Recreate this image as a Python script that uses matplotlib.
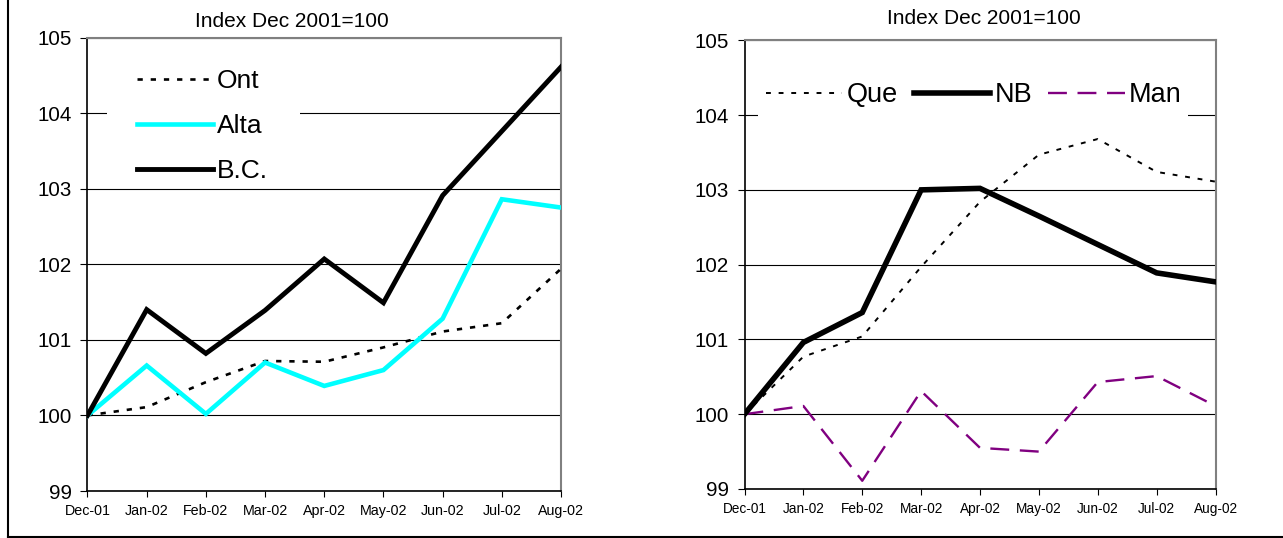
import matplotlib
matplotlib.use('Agg')
import matplotlib.pyplot as plt
from matplotlib.patches import Rectangle
from matplotlib.lines import Line2D

plt.rcParams['font.family'] = ['Liberation Sans', 'DejaVu Sans']

months = ['Dec-01', 'Jan-02', 'Feb-02', 'Mar-02', 'Apr-02', 'May-02', 'Jun-02', 'Jul-02', 'Aug-02']
yticks = [99, 100, 101, 102, 103, 104, 105]
title_text = 'Index Dec 2001=100'

# Left chart
ont = [100.00, 100.11, 100.44, 100.72, 100.71, 100.90, 101.11, 101.22, 101.94]
alta = [100.00, 100.66, 100.02, 100.70, 100.39, 100.60, 101.28, 102.86, 102.75]
bc = [100.00, 101.40, 100.82, 101.39, 102.07, 101.49, 102.91, 103.76, 104.61]

# Right chart
que = [100.00, 100.77, 101.04, 101.97, 102.84, 103.47, 103.68, 103.24, 103.11]
nb = [100.00, 100.96, 101.36, 103.00, 103.02, 102.65, 102.27, 101.89, 101.77]
man = [100.00, 100.11, 99.11, 100.31, 99.55, 99.50, 100.43, 100.51, 100.11]

W, H = 1283, 538
fig = plt.figure(figsize=(W / 100, H / 100), dpi=100)
fig.patch.set_facecolor('white')


def px_axes(x0, x1, ytop, ybot):
    return fig.add_axes([x0 / W, 1 - ybot / H, (x1 - x0) / W, (ybot - ytop) / H])


def fx(x):
    return x / W


def fy(y):
    return 1 - y / H


def style(ax, xfs):
    x = list(range(len(months)))
    ax.set_xlim(x[0], x[-1])
    ax.set_ylim(yticks[0], yticks[-1])
    ax.set_xticks(x)
    ax.set_xticklabels(months, fontsize=xfs)
    ax.set_yticks(yticks)
    ax.set_yticklabels([str(v) for v in yticks], fontsize=14.8)
    ax.grid(axis='y', color='black', lw=0.8)
    ax.set_axisbelow(True)
    for s in ['top', 'right']:
        ax.spines[s].set_color('#808080')
        ax.spines[s].set_linewidth(1.5)
    for s in ['left', 'bottom']:
        ax.spines[s].set_color('black')
        ax.spines[s].set_linewidth(1.2)
    ax.tick_params(axis='y', direction='out', length=5, width=0.8, pad=6)
    ax.tick_params(axis='x', direction='out', length=4.5, width=0.8, pad=5)
    return x


# ---- Left chart ----
axL = px_axes(87.5, 561, 37.5, 491)
x = style(axL, 10.3)
axL.add_patch(Rectangle((fx(107), fy(128)), fx(300) - fx(107), fy(100) - fy(128),
                        transform=fig.transFigure, facecolor='white', edgecolor='none', zorder=1))
axL.plot(x, ont, color='black', lw=1.9, linestyle=(0, (2.0, 3.0)), label='Ont', zorder=3)
axL.plot(x, alta, color='#00FFFF', lw=3.3, label='Alta', zorder=3, solid_joinstyle='miter')
axL.plot(x, bc, color='black', lw=3.5, label='B.C.', zorder=4, solid_joinstyle='miter')
axL.legend(loc='center left', bbox_to_anchor=(fx(137), fy(126)), bbox_transform=fig.transFigure,
           frameon=False, fontsize=19, borderpad=0, borderaxespad=0, handlelength=2.88,
           handletextpad=0.15, labelspacing=0.8)
fig.text(fx(292), fy(21.5), title_text, ha='center', va='center', fontsize=15)

# ---- Right chart ----
axR = px_axes(744.5, 1215.5, 40.3, 489)
x = style(axR, 9.8)
axR.add_patch(Rectangle((fx(758), fy(125)), fx(1188) - fx(758), fy(70) - fy(125),
                        transform=fig.transFigure, facecolor='white', edgecolor='none', zorder=1))
axR.plot(x, que, color='black', lw=1.4, linestyle=(0, (2.5, 4.0)), label='Que', zorder=3)
axR.plot(x, nb, color='black', lw=4.0, label='NB', zorder=4, solid_joinstyle='miter')
axR.plot(x, man, color='#800080', lw=1.7, linestyle=(0, (8.0, 4.5)), label='Man', zorder=3)
axR.legend(loc='center left', bbox_to_anchor=(fx(766), fy(95)), bbox_transform=fig.transFigure,
           frameon=False, fontsize=19.5, borderpad=0, borderaxespad=0, handlelength=2.82,
           handletextpad=0.15, ncol=3, columnspacing=0.6)
fig.text(fx(984), fy(18), title_text, ha='center', va='center', fontsize=15)

# ---- Outer frame (left and bottom) ----
fig.add_artist(Line2D([fx(7.5), fx(7.5)], [fy(537), 1.0], transform=fig.transFigure,
                      color='black', lw=1.5))
fig.add_artist(Line2D([fx(7.5), 1.0], [fy(536.8), fy(536.8)], transform=fig.transFigure,
                      color='black', lw=1.5))

fig.savefig('out.png', dpi=100)
